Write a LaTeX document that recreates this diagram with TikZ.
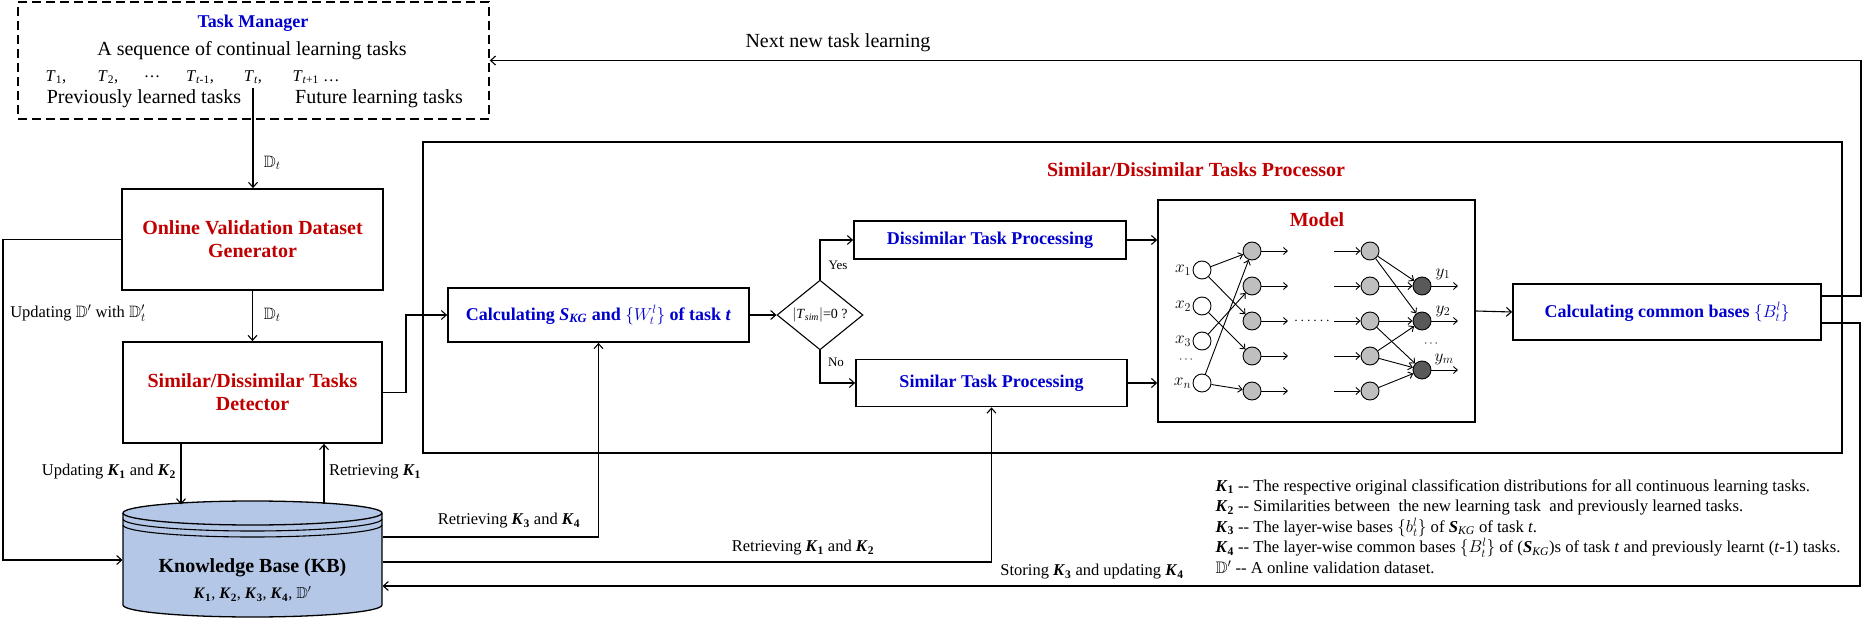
\documentclass[tikz,border=0pt]{standalone}
\usepackage{amssymb}
\usepackage{fontspec}
\setmainfont{Liberation Serif}
\usetikzlibrary{calc,shapes.geometric,arrows.meta}

\definecolor{tmblue}{RGB}{0,0,205}
\definecolor{tmred}{RGB}{192,0,0}
\definecolor{kbfill}{RGB}{180,199,231}
\definecolor{hidgray}{RGB}{191,191,191}
\definecolor{outgray}{RGB}{89,89,89}

\newcommand{\Kb}[1]{\textbf{\textit{K}}\textsubscript{\textbf{#1}}}
\newcommand{\Skg}{\textbf{\textit{S}}\textsubscript{\textit{KG}}}
\def\netarrow{\draw[-{Straight Barb[length=4pt,width=7pt]},line width=0.9pt]}
\def\innode{\node[neuron,fill=white]}
\def\hidnode{\node[neuron,fill=hidgray]}
\def\outnode{\node[neuron,fill=outgray]}

\begin{document}
\begin{tikzpicture}[x=1pt,y=1pt,>={Straight Barb[length=5pt,width=9pt]},line width=1.1pt,
  redbox/.style={draw,line width=1.8pt,align=center,text=tmred,font=\fontsize{20}{23}\selectfont\bfseries},
  bluebox/.style={draw,line width=1.8pt,align=center,text=tmblue,font=\fontsize{18}{21}\selectfont\bfseries},
  lbl/.style={font=\fontsize{16.5}{19}\selectfont},
  bigtxt/.style={font=\fontsize{20}{23}\selectfont},
  neuron/.style={circle,draw,line width=0.9pt,minimum size=18pt,inner sep=0pt}]
\useasboundingbox (0,0) rectangle (1863,-620);

% ---------- Task manager on top
\node[draw,dash pattern=on 9pt off 5pt,line width=1.5pt,minimum width=471pt,minimum height=117pt] (tm) at (253.5,-60.5) {};
\node[font=\fontsize{18}{20}\selectfont\bfseries,text=tmblue] (tmtitle) at (253,-23) {Task Manager};
\node[bigtxt] (seq) at (252,-51) {A sequence of continual learning tasks};
\node[lbl] (T1) at (56,-77) {\textit{T}\textsubscript{1},};
\node[lbl] (T2) at (108,-77) {\textit{T}\textsubscript{2},};
\node[lbl] (Tdots) at (152,-77) {\dots};
\node[lbl] (Tprev) at (200,-77) {\textit{T}\textsubscript{\textit{t}-1},};
\node[lbl] (Tt) at (253,-77) {\textit{T}\textsubscript{\textit{t}},};
\node[lbl] (Tnext) at (316,-77) {\textit{T}\textsubscript{\textit{t}+1} \dots};
\node[bigtxt] (prev) at (144,-99) {Previously learned tasks};
\node[bigtxt] (future) at (379,-99) {Future learning tasks};

% ---------- generator and detector
\node[redbox,minimum width=261pt,minimum height=101pt] (ovdg) at (252.5,-239.5) {Online Validation Dataset\\Generator};
\node[redbox,minimum width=259pt,minimum height=101pt] (det) at (252.5,-392.5) {Similar/Dissimilar Tasks\\Detector};
\draw[->] (Tt.south) -- (Tt.south |- ovdg.north);
\node[lbl,anchor=west] (dt1) at (260,-163) {$\mathbb{D}_t$};
\draw[->] (ovdg.south) -- (det.north);
\node[lbl,anchor=west] (dt2) at (260,-315) {$\mathbb{D}_t$};

% ---------- Knowledge base cylinder
\fill[kbfill] (123,-513) -- (123,-605) arc[start angle=180,end angle=360,x radius=129.5,y radius=12] -- (382,-513) arc[start angle=0,end angle=180,x radius=129.5,y radius=12] -- cycle;
\draw[line width=1.3pt] (123,-513) -- (123,-605) arc[start angle=180,end angle=360,x radius=129.5,y radius=12] -- (382,-513);
\draw[line width=1.3pt] (252.5,-513) ellipse [x radius=129.5,y radius=12];
\draw (123,-519) arc[start angle=180,end angle=360,x radius=129.5,y radius=12];
\draw (123,-525) arc[start angle=180,end angle=360,x radius=129.5,y radius=12];
\node[minimum width=259pt,minimum height=110pt,inner sep=0pt] (kb) at (252.5,-560) {};
\node[font=\fontsize{20}{23}\selectfont\bfseries] (kbtitle) at (252.5,-568) {Knowledge Base (KB)};
\node[font=\fontsize{16}{18}\selectfont] (kbitems) at (252.5,-594) {\Kb{1}, \Kb{2}, \Kb{3}, \Kb{4}, $\mathbb{D}'$};

% left loop, updating the validation set
\coordinate (upd_turn) at (3,-239.5);
\draw[->] (ovdg.west) -- (upd_turn) |- (kb.west);
\node[lbl] (updlab) at (78,-313) {Updating $\mathbb{D}'$ with $\mathbb{D}'_t$};

\draw[->] ([xshift=-71.5pt]det.south) -- ([xshift=-71.5pt]kb.north);
\node[lbl] (updk) at (109,-472) {Updating \Kb{1} and \Kb{2}};
\draw[->] ([xshift=71.5pt]kb.north) -- ([xshift=71.5pt]det.south);
\node[lbl] (retk1) at (375,-472) {Retrieving \Kb{1}};

% ---------- the processor
\draw[line width=2pt] (423,-142) rectangle (1842,-453);
\node[font=\fontsize{20}{23}\selectfont\bfseries,text=tmred] (proctitle) at (1196,-170) {Similar/Dissimilar Tasks Processor};

\node[bluebox,minimum width=301pt,minimum height=54pt] (calc) at (598.5,-315) {Calculating \Skg\ and $\{W_t^l\}$ of task \textit{t}};
\node[diamond,draw,line width=1.1pt,minimum width=86pt,minimum height=37pt,inner sep=0pt,font=\fontsize{14}{16}\selectfont] (dia) at (820,-315) {$|$\textit{T}\textsubscript{\textit{sim}}$|$=0 ?};
\node[bluebox,minimum width=272pt,minimum height=38pt] (dis) at (990,-240) {Dissimilar Task Processing};
\node[bluebox,minimum width=271pt,minimum height=47pt] (sim) at (991.5,-383) {Similar Task Processing};
\node[draw,line width=1.5pt,minimum width=317pt,minimum height=222pt] (model) at (1316.5,-311) {};
\node[font=\fontsize{20}{23}\selectfont\bfseries,text=tmred] (modeltitle) at (1317,-220) {Model};
\node[bluebox,minimum width=308pt,minimum height=56pt] (cb) at (1667,-312) {Calculating common bases $\{B_t^l\}$};

\coordinate (det_turn) at (406,-392.5);
\draw[->] (det.east) -- (det_turn) |- (calc.west);
\draw[->] (calc.east) -- (dia.west);
\draw[->] (dia.north) |- (dis.west);
\node[font=\fontsize{13}{15}\selectfont] (yeslab) at (838,-265) {Yes};
\draw[->] (dia.south) |- (sim.west);
\node[font=\fontsize{13}{15}\selectfont] (nolab) at (836,-362) {No};
\draw[->] (dis.east) -- (dis.east -| model.west);
\draw[->] (sim.east) -- (sim.east -| model.west);
\draw[->] (model.east) -- (cb.west);

% ---------- the network inside the model
\innode[label={[lbl,inner sep=1pt]left:$x_1$}] (in1) at (1202,-270) {};
\innode[label={[lbl,inner sep=1pt]left:$x_2$}] (in2) at (1202,-306) {};
\innode[label={[lbl,inner sep=1pt]left:$x_3$}] (in3) at (1202,-341) {};
\innode[label={[lbl,inner sep=1pt]left:$x_n$}] (inn) at (1202,-383) {};
\node[font=\fontsize{13}{15}\selectfont] (indots) at (1186,-360) {$\cdots$};
\hidnode (h1) at (1252,-251) {};
\hidnode (h2) at (1252,-286) {};
\hidnode (h3) at (1252,-321) {};
\hidnode (h4) at (1252,-356) {};
\hidnode (h5) at (1252,-391) {};
\hidnode (g1) at (1370,-251) {};
\hidnode (g2) at (1370,-286) {};
\hidnode (g3) at (1370,-321) {};
\hidnode (g4) at (1370,-356) {};
\hidnode (g5) at (1370,-391) {};
\outnode (o1) at (1422,-286) {};
\outnode (o2) at (1422,-321) {};
\outnode (o3) at (1422,-370) {};
\node[lbl] (y1lab) at (1443,-274) {$y_1$};
\node[lbl] (y2lab) at (1443,-311) {$y_2$};
\node[lbl] (ymlab) at (1444,-359) {$y_m$};
\node[font=\fontsize{13}{15}\selectfont] (outdots) at (1431,-344) {$\cdots$};
\node[font=\fontsize{15}{17}\selectfont] (middots) at (1312,-321) {$\cdots\cdots$};
\coordinate (hcut) at (1288,0);
\coordinate (gcut) at (1334,0);
\coordinate (ocut) at (1458,0);

\netarrow (in1) -- (h1);
\netarrow (in1) -- (h3);
\netarrow (in2) -- (h4);
\netarrow (in3) -- (h2);
\netarrow (inn) -- (h1);
\netarrow (inn) -- (h5);
\netarrow (h1.east) -- (h1.east -| hcut);
\netarrow (h2.east) -- (h2.east -| hcut);
\netarrow (h3.east) -- (h3.east -| hcut);
\netarrow (h4.east) -- (h4.east -| hcut);
\netarrow (h5.east) -- (h5.east -| hcut);
\netarrow (g1.west -| gcut) -- (g1.west);
\netarrow (g2.west -| gcut) -- (g2.west);
\netarrow (g3.west -| gcut) -- (g3.west);
\netarrow (g4.west -| gcut) -- (g4.west);
\netarrow (g5.west -| gcut) -- (g5.west);
\netarrow (g1) -- (o1);
\netarrow (g1) -- (o2);
\netarrow (g2) -- (o1);
\netarrow (g3) -- (o2);
\netarrow (g3) -- (o3);
\netarrow (g4) -- (o2);
\netarrow (g4) -- (o3);
\netarrow (g5) -- (o3);
\netarrow (o1.east) -- (o1.east -| ocut);
\netarrow (o2.east) -- (o2.east -| ocut);
\netarrow (o3.east) -- (o3.east -| ocut);

% ---------- knowledge base traffic along the bottom
\draw[->] ([yshift=23pt]kb.east) -| (calc.south);
\node[lbl] (retk34) at (509,-521) {Retrieving \Kb{3} and \Kb{4}};
\draw[->] ([yshift=-2pt]kb.east) -| (sim.south);
\node[lbl] (retk12) at (803,-548) {Retrieving \Kb{1} and \Kb{2}};
\coordinate (store_turn) at (1860,-323);
\draw[->] ([yshift=-11pt]cb.east) -- (store_turn) |- ([yshift=-26pt]kb.east);
\node[lbl] (storelab) at (1092,-572) {Storing \Kb{3} and updating \Kb{4}};

% back to the task manager
\coordinate (next_turn) at (1861,-296);
\draw[->] ([yshift=16pt]cb.east) -- (next_turn) |- (tm.east);
\node[bigtxt] (nextlab) at (838,-43) {Next new task learning};

% ---------- legend
\node[anchor=north west,align=left,inner sep=0pt,font=\fontsize{16.7}{20.5}\selectfont] (legend) at (1215,-479) {%
\Kb{1} -{}- The respective original classification distributions for all continuous learning tasks.\\
\Kb{2} -{}- Similarities between\ \ the new learning task\ \ and previously learned tasks.\\
\Kb{3} -{}- The layer-wise bases $\{b_t^l\}$ of \Skg\ of task \textit{t}.\\
\Kb{4} -{}- The layer-wise common bases $\{B_t^l\}$ of (\Skg)s of task \textit{t} and previously learnt (\textit{t}-1) tasks.\\
$\mathbb{D}'$ -{}- A online validation dataset.};
\end{tikzpicture}
\end{document}
